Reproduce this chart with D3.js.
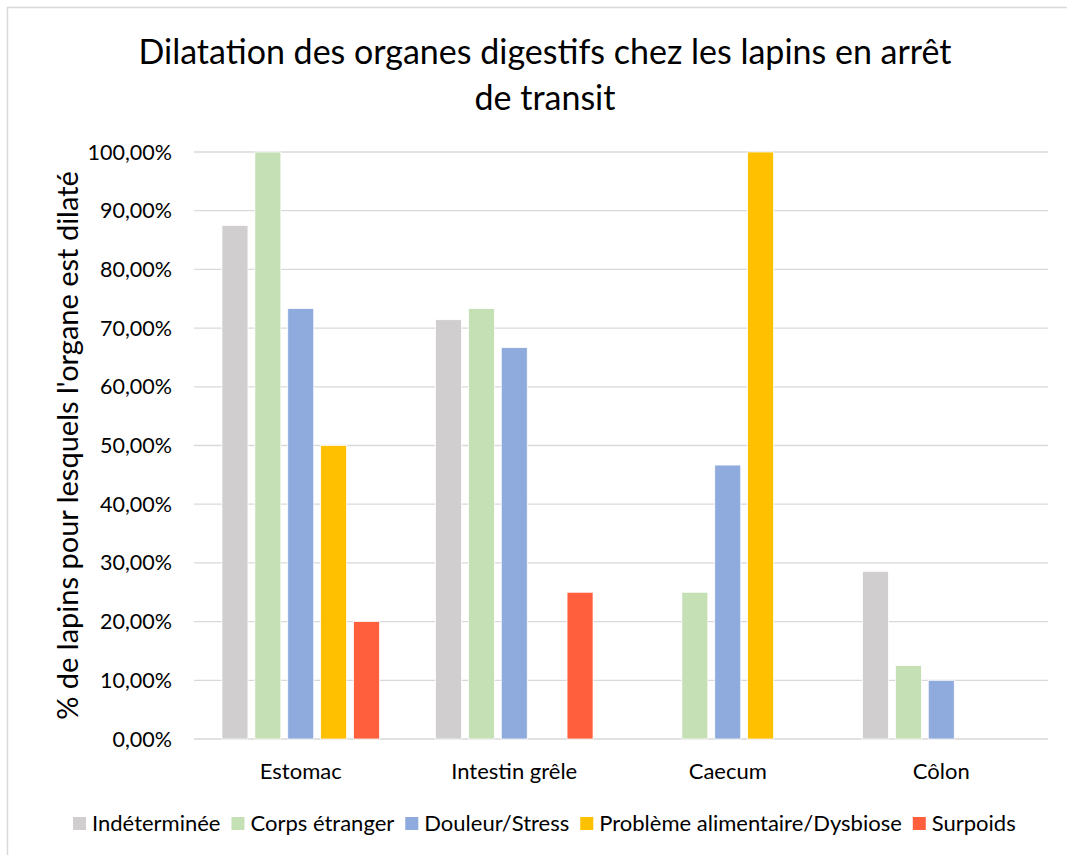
<!DOCTYPE html>
<html>
<head>
<meta charset="utf-8">
<script src="https://cdn.jsdelivr.net/npm/d3@7"></script>
<style>
    body { margin: 0; background: #fff; }
    svg text { font-family: Lato, "Open Sans", sans-serif; fill: #000; }
</style>
</head>
<body>
<div id="chartContainer"></div>
<script>
// data
const organs = ["Estomac", "Intestin grêle", "Caecum", "Côlon"];
const causes = ["Indéterminée", "Corps étranger", "Douleur/Stress",
    "Problème alimentaire/Dysbiose", "Surpoids"];
const colors = ["#d0cece", "#c5e0b4", "#8faadc", "#ffc000", "#ff5f3c"];

const indeterminee = [87.5, 71.43, 0, 28.57];
const corpsEtranger = [100, 73.33, 25, 12.5];
const douleurStress = [73.33, 66.67, 46.67, 10];
const alimentaire = [50, 0, 100, 0];
const surpoids = [20, 25, 0, 0];
const yTicks = [0, 10, 20, 30, 40, 50, 60, 70, 80, 90, 100];

const seriesValues = [indeterminee, corpsEtranger, douleurStress, alimentaire, surpoids];

const width = 1067;
const height = 855;

let svg = d3.select("#chartContainer")
    .append("svg")
    .attr("width", width)
    .attr("height", height);

// chart border
svg.append("rect")
    .attr("x", 7.5).attr("y", 7.5)
    .attr("width", width + 20).attr("height", height + 20)
    .attr("fill", "#fff")
    .attr("stroke", "#d9d9d9")
    .attr("stroke-width", 1.5);

const plot = { left: 194, right: 1048, top: 152, bottom: 739 };

let x0 = d3.scaleBand()
    .domain(organs)
    .range([plot.left, plot.right])
    .padding(0);

let x1 = d3.scaleBand()
    .domain(causes)
    .range([0, x0.bandwidth()])
    .paddingInner(0.21)
    .paddingOuter(0.85);

let y = d3.scaleLinear()
    .domain([0, 100])
    .range([plot.bottom, plot.top]);

// gridlines
svg.append("g")
    .selectAll("line")
    .data(yTicks)
    .enter()
    .append("line")
    .attr("x1", plot.left)
    .attr("x2", plot.right)
    .attr("y1", d => y(d))
    .attr("y2", d => y(d))
    .attr("stroke", "#d9d9d9")
    .attr("stroke-width", 1.3);

// y axis labels
let fmt = d => d.toFixed(2).replace(".", ",") + "%";
svg.append("g")
    .selectAll("text")
    .data(yTicks)
    .enter()
    .append("text")
    .attr("x", 172)
    .attr("y", d => y(d))
    .attr("dy", "0.35em")
    .attr("text-anchor", "end")
    .style("font-size", "21.5px")
    .text(fmt);

// bars
let groups = svg.append("g")
    .selectAll("g")
    .data(organs)
    .enter()
    .append("g")
    .attr("transform", d => "translate(" + x0(d) + ",0)");

groups.selectAll("rect")
    .data((d, i) => causes.map((c, j) => ({ cause: c, value: seriesValues[j][i], color: colors[j] })))
    .enter()
    .filter(d => d.value > 0)
    .append("rect")
    .attr("x", d => x1(d.cause))
    .attr("width", x1.bandwidth())
    .attr("y", d => y(d.value))
    .attr("height", d => y(0) - y(d.value))
    .attr("fill", d => d.color)
    .attr("stroke", "#fff")
    .attr("stroke-width", 0.75);

// category labels
svg.append("g")
    .selectAll("text")
    .data(organs)
    .enter()
    .append("text")
    .attr("x", d => x0(d) + x0.bandwidth() / 2)
    .attr("y", 771)
    .attr("dy", "0.35em")
    .attr("text-anchor", "middle")
    .style("font-size", "22px")
    .text(d => d);

// title
let title = svg.append("text")
    .attr("x", 545)
    .attr("text-anchor", "middle")
    .style("font-size", "34px");
title.append("tspan").attr("x", 545).attr("y", 64).text("Dilatation des organes digestifs chez les lapins en arrêt");
title.append("tspan").attr("x", 545).attr("y", 110).text("de transit");

// y axis title
svg.append("text")
    .attr("transform", "translate(68," + (plot.top + plot.bottom) / 2 + ") rotate(-90)")
    .attr("text-anchor", "middle")
    .attr("dy", "0.35em")
    .style("font-size", "29px")
    .text("% de lapins pour lesquels l'organe est dilaté");

// legend
let legend = svg.append("g");
let lx = 73;
causes.forEach((c, i) => {
    legend.append("rect")
        .attr("x", lx)
        .attr("y", 817)
        .attr("width", 13)
        .attr("height", 13)
        .attr("fill", colors[i]);
    let t = legend.append("text")
        .attr("x", lx + 19)
        .attr("y", 823)
        .attr("dy", "0.35em")
        .style("font-size", "22px")
        .text(c);
    lx += 19 + t.node().getComputedTextLength() + 11;
});
</script>
</body>
</html>
